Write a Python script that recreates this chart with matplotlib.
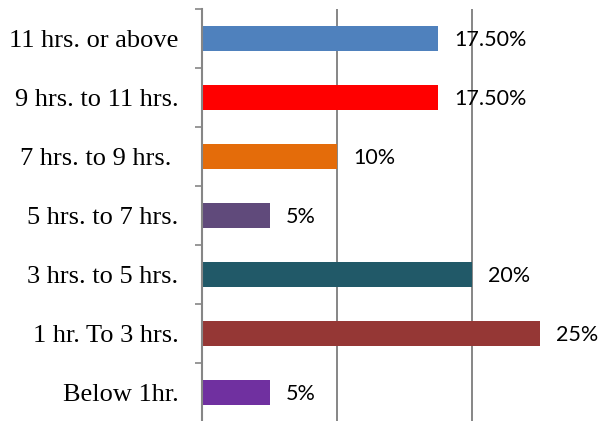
import matplotlib
matplotlib.use("Agg")
import matplotlib.pyplot as plt
import numpy as np

categories = ["11 hrs. or above", "9 hrs. to 11 hrs.", "7 hrs. to 9 hrs. ", "5 hrs. to 7 hrs.",
              "3 hrs. to 5 hrs.", "1 hr. To 3 hrs.", "Below 1hr."]
values = [17.5, 17.5, 10, 5, 20, 25, 5]
value_labels = ["17.50%", "17.50%", "10%", "5%", "20%", "25%", "5%"]
colors = ["#4F81BD", "#FF0000", "#E46C0A", "#604A7B", "#215968", "#953735", "#7030A0"]

fig = plt.figure(figsize=(6.02, 4.21), dpi=100)
ax = fig.add_axes([202/602, -1/421, 1 - 202/602, (422 - 9)/421])

n = len(categories)
ypos = np.arange(n)[::-1]
ax.barh(ypos, values, height=0.41, color=colors, zorder=3)
ax.set_xlim(0, 29.6)
ax.set_ylim(-0.5, n - 0.5)

for y, v, lab in zip(ypos, values, value_labels):
    ax.text(v + 1.2, y - 0.03, lab, va="center", ha="left", fontsize=15.5,
            family=["Lato", "DejaVu Sans"], color="#000000", clip_on=False, zorder=4)

for gx in [10, 20]:
    ax.axvline(gx, color="#868686", lw=1.4, zorder=1)

for s in ["top", "right", "bottom"]:
    ax.spines[s].set_visible(False)
ax.spines["left"].set_color("#868686")
ax.spines["left"].set_linewidth(1.5)
ax.spines["left"].set_zorder(5)

ax.set_xticks([])
ax.set_yticks(np.arange(-0.5, n, 1.0))
ax.set_yticklabels([])
ax.tick_params(axis="y", which="major", length=5, width=1.2, color="#868686", direction="out")
ax.set_yticks(ypos, minor=True)
ax.set_yticklabels(categories, minor=True, fontsize=19, family="Liberation Serif")
ax.tick_params(axis="y", which="minor", length=0, pad=17)

fig.savefig("out.png", dpi=100)
